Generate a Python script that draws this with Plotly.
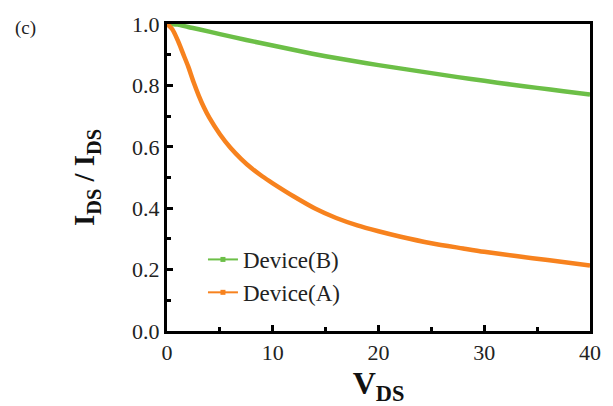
import plotly.graph_objects as go

# Data
vds_b = [0, 1, 2, 3, 5, 7.5, 10, 12.5, 15, 17.5, 20, 22.5, 25, 27.5, 30, 32.5, 35, 37.5, 40]
dev_b = [1.0, 0.998, 0.99, 0.983, 0.967, 0.948, 0.93, 0.912, 0.895, 0.88, 0.866, 0.853, 0.84, 0.827, 0.815, 0.803, 0.792, 0.781, 0.77]

vds_a = [0, 0.5, 1, 1.5, 2, 2.5, 3, 3.5, 4, 5, 6, 7, 8, 9, 10, 12, 14, 16, 18, 20, 22, 25, 28, 30, 33, 36, 40]
dev_a = [1.0, 0.983, 0.948, 0.905, 0.862, 0.812, 0.767, 0.728, 0.695, 0.641, 0.597, 0.561, 0.530, 0.504, 0.481, 0.438, 0.399, 0.368, 0.344, 0.325, 0.308, 0.286, 0.269, 0.258, 0.244, 0.231, 0.213]

names = ["Device(B)", "Device(A)"]
GREEN = "#6cbf47"
ORANGE = "#f7821e"
SERIF = "Liberation Serif"

fig = go.Figure()
fig.add_trace(go.Scatter(x=vds_b, y=dev_b, mode="lines", line=dict(color=GREEN, width=4.5, shape="spline", smoothing=0.8),
                         showlegend=False))
fig.add_trace(go.Scatter(x=vds_a, y=dev_a, mode="lines", line=dict(color=ORANGE, width=4.5, shape="spline", smoothing=0.8),
                         showlegend=False))
# legend-only entries (thin line with small square marker)
fig.add_trace(go.Scatter(x=[None], y=[None], mode="lines+markers", name=names[0],
                         line=dict(color=GREEN, width=2), marker=dict(symbol="square", size=5, color=GREEN)))
fig.add_trace(go.Scatter(x=[None], y=[None], mode="lines+markers", name=names[1],
                         line=dict(color=ORANGE, width=2), marker=dict(symbol="square", size=5, color=ORANGE)))

axis_font = dict(family=SERIF, size=22, color="#222")

fig.update_layout(
    width=613, height=406,
    margin=dict(l=167, r=20, t=17, b=75),
    paper_bgcolor="white", plot_bgcolor="white",
    font=dict(family=SERIF, color="#222"),
    legend=dict(x=0.085, y=0.303, xanchor="left", yanchor="top",
                font=dict(family=SERIF, size=23, color="#222"),
                bgcolor="rgba(0,0,0,0)", tracegroupgap=0),
    xaxis=dict(range=[0, 40], tickvals=[0, 10, 20, 30, 40], ticks="inside", ticklen=6, tickwidth=3,
               tickcolor="black", showline=True, linecolor="black", linewidth=3, mirror=True,
               showgrid=False, zeroline=False, tickfont=axis_font,
               minor=dict(dtick=5, ticks="inside", ticklen=4, tickwidth=3, tickcolor="black", showgrid=False),
               title=dict(text="<b>V<sub>DS</sub></b>", font=dict(size=32, family=SERIF, color="#111"),
                          standoff=0)),
    yaxis=dict(range=[0, 1.0], tickvals=[0, 0.2, 0.4, 0.6, 0.8, 1.0], ticktext=["0.0", "0.2", "0.4", "0.6", "0.8", "1.0"],
               ticks="inside", ticklen=6, tickwidth=3,
               tickcolor="black", showline=True, linecolor="black", linewidth=3, mirror=True,
               showgrid=False, zeroline=False, tickfont=axis_font,
               minor=dict(dtick=0.1, ticks="inside", ticklen=4, tickwidth=3, tickcolor="black", showgrid=False),
               title=dict(text="\u00a0\u00a0\u00a0\u00a0\u00a0<b>I<sub>DS</sub> / I<sub>DS</sub></b>",
                          font=dict(size=29, family=SERIF, color="#111"),
                          standoff=29)),
    annotations=[dict(text="(c)", x=(12 - 167) / (613 - 167 - 20), y=1 + (17 - 8) / (406 - 17 - 75),
                      xref="paper", yref="paper", showarrow=False,
                      xanchor="left", yanchor="top",
                      font=dict(size=19, family=SERIF, color="#222"))],
)

fig.write_html("out.html")
